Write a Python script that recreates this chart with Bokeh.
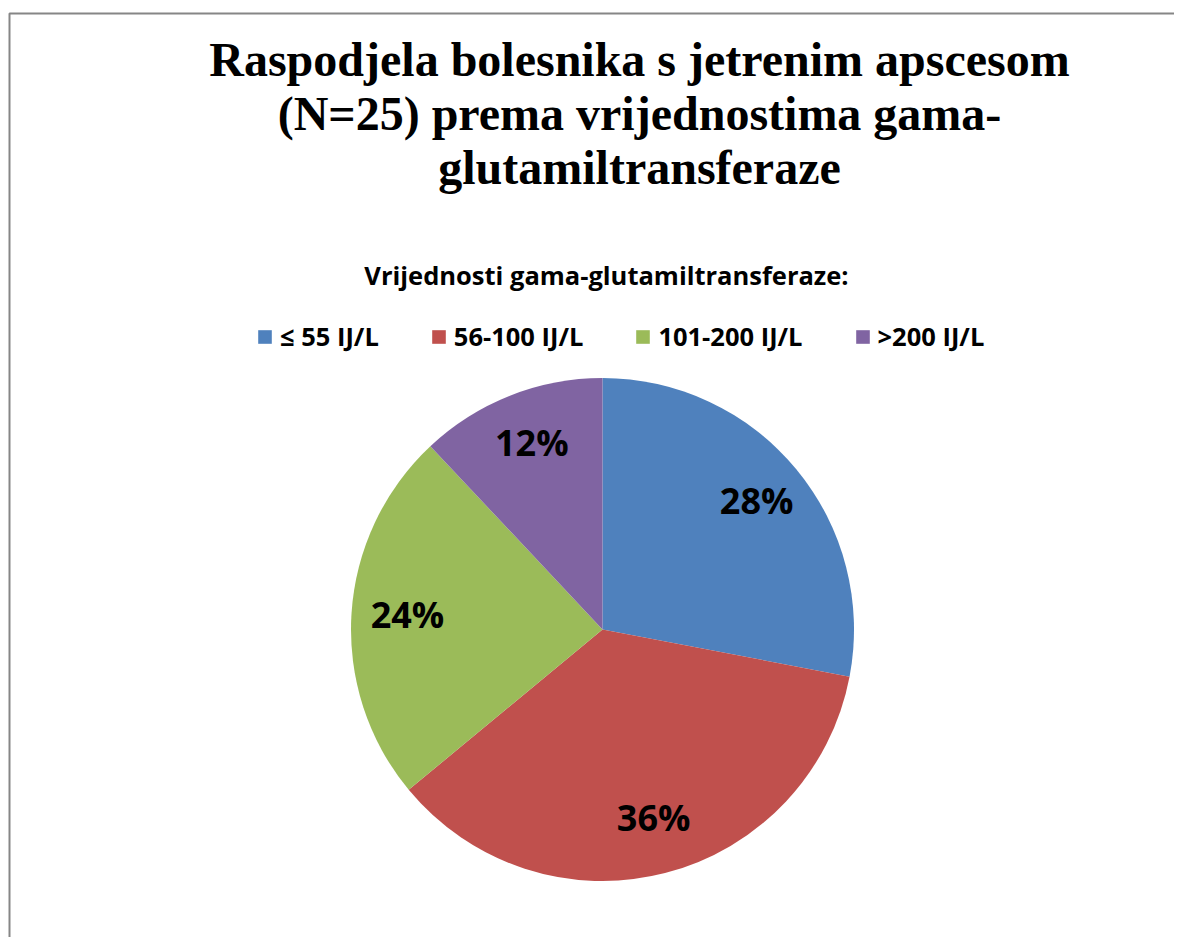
import math
from bokeh.plotting import figure
from bokeh.models import Range1d, Label, Legend, LegendItem, ColumnDataSource
from bokeh.embed import file_html
from bokeh.resources import INLINE

# ---- data ----
categories = ["\u2264 55 IJ/L", "56-100 IJ/L", "101-200 IJ/L", ">200 IJ/L"]
counts = [7, 9, 6, 3]          # N = 25
colors = ["#4F81BD", "#C0504D", "#9BBB59", "#8064A2"]
title_lines = ["Raspodjela bolesnika s jetrenim apscesom",
               "(N=25) prema vrijednostima gama-",
               "glutamiltransferaze"]
legend_title = "Vrijednosti gama-glutamiltransferaze:"

W, H = 1174, 937
p = figure(width=W, height=H, output_backend="svg", toolbar_location=None,
           x_range=Range1d(0, W), y_range=Range1d(0, H), min_border=0)
p.axis.visible = False
p.grid.visible = False
p.outline_line_color = None
p.background_fill_color = "white"
p.border_fill_color = "white"

# chart-area border (left and top edges visible)
p.line(x=[9, 9, W + 40], y=[-40, H - 13, H - 13], line_color="#868686", line_width=2)

# ---- pie ----
total = sum(counts)
fracs = [c / total for c in counts]
starts, ends, mids = [], [], []
cum = 0.0
for f in fracs:
    s = math.pi / 2 - cum * 2 * math.pi
    e = math.pi / 2 - (cum + f) * 2 * math.pi
    starts.append(s); ends.append(e); mids.append((s + e) / 2)
    cum += f

cx, cy, R = 602, H - 629, 251.5
src = ColumnDataSource(dict(start=starts, end=ends, color=colors, label=categories))
r = p.wedge(x=cx, y=cy, radius=R, start_angle="start", end_angle="end",
            direction="clock", fill_color="color", line_color=None, source=src)

# percentage labels
lr = 0.785 * R
for f, m in zip(fracs, mids):
    p.add_layout(Label(x=cx + lr * math.cos(m) + 2, y=cy + lr * math.sin(m) + 3,
                       text=f"{round(f * 100)}%", text_font="Open Sans",
                       text_font_style="bold", text_font_size="36px",
                       text_align="center", text_baseline="middle", text_color="black"))

# ---- title ----
for i, t in enumerate(title_lines):
    p.add_layout(Label(x=639, y=H - 59 - i * 54, text=t, text_font="Liberation Serif",
                       text_font_style="bold", text_font_size="48px",
                       text_align="center", text_baseline="middle", text_color="black"))

# legend title
p.add_layout(Label(x=606, y=H - 274, text=legend_title, text_font="Open Sans",
                   text_font_style="bold", text_font_size="25.5px",
                   text_align="center", text_baseline="middle", text_color="black"))

items = [LegendItem(label=c, renderers=[r], index=i) for i, c in enumerate(categories)]
legend = Legend(items=items, orientation="horizontal", location=(256, 584),
                glyph_width=17, glyph_height=17, label_standoff=7, spacing=51,
                label_height=30, label_text_font="Open Sans", label_text_font_style="bold",
                label_text_font_size="25.5px", label_text_color="black",
                padding=0, margin=0, border_line_color=None, background_fill_alpha=0)
p.add_layout(legend, "center")

open("out.html", "w").write(file_html(p, INLINE))
